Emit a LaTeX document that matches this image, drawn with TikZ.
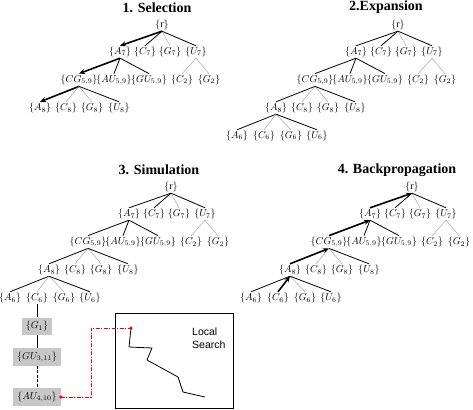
\documentclass[tikz,border=0pt]{standalone}
\usepackage{fontspec}
\setmainfont{Liberation Serif}
\newfontfamily\lsfont{Liberation Sans}
\usetikzlibrary{arrows.meta}
\tikzset{
  lbl/.style={inner sep=1pt, font=\fontsize{10}{12}\selectfont},
  ttl/.style={inner sep=0pt, font=\fontsize{14}{16}\selectfont\bfseries},
  blk/.style={line width=0.8pt, black},
  gry/.style={line width=0.4pt, black!40},
  boldarr/.style={line width=1.6pt, black, -{Stealth[length=6pt,width=5pt]}},
  simbox/.style={fill=black!22, inner xsep=4pt, inner ysep=3.5pt, font=\fontsize{10}{12}\selectfont},
  redline/.style={red, line width=0.8pt, dash pattern=on 4pt off 1.5pt on 1pt off 1.5pt},
  reddot/.style={circle, fill=red, inner sep=0pt, minimum size=3.5pt},
  lsbox/.style={draw, line width=0.8pt, inner sep=0pt},
  walk/.style={line width=0.8pt, black, line join=round}
}
\newcommand\mytree[3]{%
  \begin{scope}[shift={(#1,#2)}]
    \node[lbl] (#3r)  at (0,0)      {$\{\mathrm{r}\}$};
    \node[lbl] (#3A7) at (-42,27)   {$\{A_7\}$};
    \node[lbl] (#3C7) at (-17,27)   {$\{C_7\}$};
    \node[lbl] (#3G7) at (8,27)     {$\{G_7\}$};
    \node[lbl] (#3U7) at (34,27)    {$\{U_7\}$};
    \node[lbl] (#3CG) at (-83,55)   {$\{CG_{5,9}\}$};
    \node[lbl] (#3AU) at (-48,55)   {$\{AU_{5,9}\}$};
    \node[lbl] (#3GU) at (-13,55)   {$\{GU_{5,9}\}$};
    \node[lbl] (#3C2) at (20,55)    {$\{C_2\}$};
    \node[lbl] (#3G2) at (47,55)    {$\{G_2\}$};
    \node[lbl] (#3A8) at (-122,83)  {$\{A_8\}$};
    \node[lbl] (#3C8) at (-96,83)   {$\{C_8\}$};
    \node[lbl] (#3G8) at (-70,83)   {$\{G_8\}$};
    \node[lbl] (#3U8) at (-43,83)   {$\{U_8\}$};
  \end{scope}}
\newcommand\mytreelow[3]{%
  \begin{scope}[shift={(#1,#2)}]
    \node[lbl] (#3A6) at (-161,111) {$\{A_6\}$};
    \node[lbl] (#3C6) at (-134,111) {$\{C_6\}$};
    \node[lbl] (#3G6) at (-107,111) {$\{G_6\}$};
    \node[lbl] (#3U6) at (-81,111)  {$\{U_6\}$};
  \end{scope}}
\begin{document}
\begin{tikzpicture}[x=1pt,y=-1pt]
\useasboundingbox (0,0) rectangle (473,409);

% ---------- titles ----------
\node[ttl] (t1) at (157,7.5)   {1. Selection};
\node[ttl] (t2) at (386,7.5)   {2.Expansion};
\node[ttl] (t3) at (159,170) {3. Simulation};
\node[ttl] (t4) at (397,170) {4. Backpropagation};

% ---------- panel 1: selection ----------
\mytree{162}{25}{a}
\draw[boldarr] (ar.south) -- (aA7.north);
\draw[blk] (ar.south) -- (aC7.north);
\draw[gry] (ar.south) -- (aG7.north);
\draw[blk] (ar.south) -- (aU7.north);
\draw[boldarr] (aA7.south) -- (aCG.north);
\draw[blk] (aA7.south) -- (aAU.north);
\draw[blk] (aA7.south) -- (aGU.north);
\draw[gry] (aU7.south) -- (aC2.north);
\draw[gry] (aU7.south) -- (aG2.north);
\draw[boldarr] (aCG.south) -- (aA8.north);
\draw[gry] (aCG.south) -- (aC8.north);
\draw[gry] (aCG.south) -- (aG8.north);
\draw[blk] (aCG.south) -- (aU8.north);

% ---------- panel 2: expansion ----------
\mytree{398}{25}{b}
\mytreelow{398}{25}{b}
\draw[blk] (br.south) -- (bA7.north);
\draw[blk] (br.south) -- (bC7.north);
\draw[gry] (br.south) -- (bG7.north);
\draw[blk] (br.south) -- (bU7.north);
\draw[blk] (bA7.south) -- (bCG.north);
\draw[blk] (bA7.south) -- (bAU.north);
\draw[blk] (bA7.south) -- (bGU.north);
\draw[gry] (bU7.south) -- (bC2.north);
\draw[gry] (bU7.south) -- (bG2.north);
\draw[blk] (bCG.south) -- (bA8.north);
\draw[gry] (bCG.south) -- (bC8.north);
\draw[gry] (bCG.south) -- (bG8.north);
\draw[blk] (bCG.south) -- (bU8.north);
\draw[blk] (bA8.south) -- (bA6.north);
\draw[gry] (bA8.south) -- (bC6.north);
\draw[gry] (bA8.south) -- (bG6.north);
\draw[blk] (bA8.south) -- (bU6.north);

% ---------- panel 3: simulation ----------
\mytree{171}{187}{c}
\mytreelow{171}{187}{c}
\draw[blk] (cr.south) -- (cA7.north);
\draw[blk] (cr.south) -- (cC7.north);
\draw[gry] (cr.south) -- (cG7.north);
\draw[blk] (cr.south) -- (cU7.north);
\draw[blk] (cA7.south) -- (cCG.north);
\draw[blk] (cA7.south) -- (cAU.north);
\draw[blk] (cA7.south) -- (cGU.north);
\draw[gry] (cU7.south) -- (cC2.north);
\draw[gry] (cU7.south) -- (cG2.north);
\draw[blk] (cCG.south) -- (cA8.north);
\draw[gry] (cCG.south) -- (cC8.north);
\draw[gry] (cCG.south) -- (cG8.north);
\draw[blk] (cCG.south) -- (cU8.north);
\draw[blk] (cA8.south) -- (cA6.north);
\draw[gry] (cA8.south) -- (cC6.north);
\draw[gry] (cA8.south) -- (cG6.north);
\draw[blk] (cA8.south) -- (cU6.north);

\coordinate (yg1) at (0,326);
\coordinate (ygu) at (0,357);
\coordinate (yau) at (0,397);
\node[simbox] (sG1) at (cC6 |- yg1) {$\{G_1\}$};
\node[simbox] (sGU) at (cC6 |- ygu) {$\{GU_{3,11}\}$};
\node[simbox] (sAU) at (cC6 |- yau) {$\{AU_{4,10}\}$};
\draw[blk] (cC6.south) -- (sG1.north);
\draw[blk] (sG1.south) -- (sGU.north);
\draw[blk, dashed, dash pattern=on 3pt off 1.5pt] (sGU.south) -- (sAU.north);

% local search box
\node[lsbox, minimum width=118pt, minimum height=95pt] (ls) at (174,360.5) {};
\node[inner sep=0pt, anchor=west, align=left, font=\lsfont\fontsize{10.5}{12.5}\selectfont] (lst) at (192,338) {Local\\Search};
\coordinate (w0) at (131,328);
\coordinate (w1) at (129,347);
\coordinate (w2) at (152,348);
\coordinate (w3) at (147,360);
\coordinate (w4) at (178,377);
\coordinate (w5) at (183,392);
\coordinate (w6) at (205,397);
\draw[walk] (w0) -- (w1) -- (w2) -- (w3) -- (w4) -- (w5) -- (w6);
\coordinate (rx) at (91,0);
\draw[redline] (sAU.east) -- (sAU.east -| rx) -- (rx |- w0) -- (w0);
\node[reddot] (d1) at (sAU.east) {};
\node[reddot] (d2) at (w0) {};

% ---------- panel 4: backpropagation ----------
\mytree{412}{187}{d}
\mytreelow{412}{187}{d}
\draw[boldarr] (dA7.north) -- (dr.south);
\draw[blk] (dr.south) -- (dC7.north);
\draw[gry] (dr.south) -- (dG7.north);
\draw[blk] (dr.south) -- (dU7.north);
\draw[boldarr] (dCG.north) -- (dA7.south);
\draw[blk] (dA7.south) -- (dAU.north);
\draw[blk] (dA7.south) -- (dGU.north);
\draw[gry] (dU7.south) -- (dC2.north);
\draw[gry] (dU7.south) -- (dG2.north);
\draw[boldarr] (dA8.north) -- (dCG.south);
\draw[gry] (dCG.south) -- (dC8.north);
\draw[gry] (dCG.south) -- (dG8.north);
\draw[blk] (dCG.south) -- (dU8.north);
\draw[blk] (dA8.south) -- (dA6.north);
\draw[boldarr] (dC6.north) -- (dA8.south);
\draw[gry] (dA8.south) -- (dG6.north);
\draw[blk] (dA8.south) -- (dU6.north);
\end{tikzpicture}
\end{document}
